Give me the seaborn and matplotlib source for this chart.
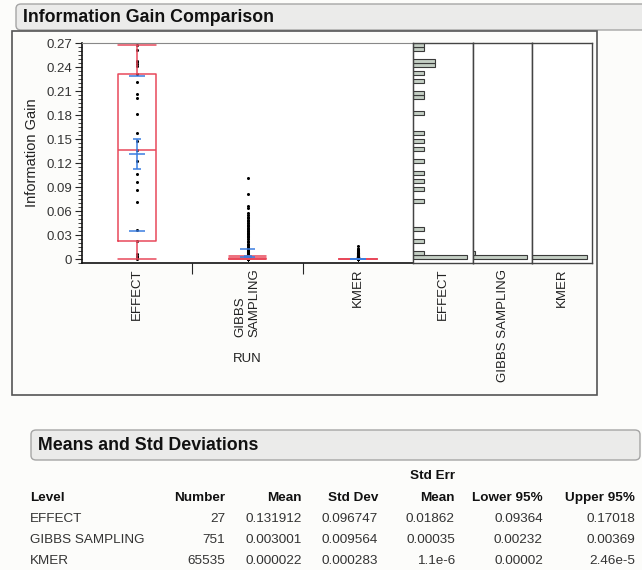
import numpy as np
import pandas as pd
import matplotlib
matplotlib.use('Agg')
import matplotlib.pyplot as plt
from matplotlib.patches import FancyBboxPatch, Rectangle
from matplotlib.ticker import MultipleLocator, FuncFormatter
import seaborn as sns

runs = ['EFFECT', 'GIBBS SAMPLING', 'KMER']
run_ticklabels = ['EFFECT', 'GIBBS\nSAMPLING', 'KMER']

effect_gain = [0.2675, 0.2615, 0.2475, 0.2465, 0.2445, 0.2415, 0.2315, 0.2215,
               0.2065, 0.2015, 0.1815, 0.1575, 0.1475, 0.1365, 0.1225, 0.1065,
               0.0965, 0.0865, 0.0715, 0.0365, 0.0225, 0.0065, 0.0035, 0.0025,
               0.0015, 0.001, 0.0005]

gibbs_levels = [0.0, 0.0005, 0.001, 0.0015, 0.002, 0.0025, 0.003, 0.0035, 0.004, 0.0045,
                0.0055, 0.0065, 0.0075, 0.0085, 0.0095,
                0.011, 0.013, 0.015, 0.017, 0.019, 0.021, 0.023, 0.025,
                0.027, 0.029, 0.031, 0.033, 0.035, 0.037, 0.039, 0.041, 0.043, 0.045,
                0.047, 0.049, 0.051, 0.053, 0.055, 0.058, 0.064, 0.066, 0.0815, 0.1019]
gibbs_counts = [330, 140, 85, 55, 35, 20, 10, 5, 3, 1,
                8, 6, 5, 4, 3,
                3, 2, 2, 2, 1, 1, 1, 1,
                2, 2, 2, 2, 2, 2, 1, 2, 1, 2,
                1, 1, 1, 1, 1, 1, 1, 1, 1, 1]

kmer_levels = [0.0, 0.0005, 0.001, 0.0015, 0.002, 0.003, 0.004, 0.005, 0.006,
               0.007, 0.008, 0.009, 0.010, 0.011, 0.012, 0.016]
kmer_counts = [65096, 150, 80, 50, 40, 30, 25, 15, 12, 10, 8, 6, 5, 4, 3, 1]

# Means and Std Deviations table
tab_number = ['27', '751', '65535']
tab_mean = ['0.131912', '0.003001', '0.000022']
tab_std = ['0.096747', '0.009564', '0.000283']
tab_se = ['0.01862', '0.00035', '1.1e-6']
tab_lower = ['0.09364', '0.00232', '0.00002']
tab_upper = ['0.17018', '0.00369', '2.46e-5']

gain = np.concatenate([effect_gain,
                       np.repeat(gibbs_levels, gibbs_counts),
                       np.repeat(kmer_levels, kmer_counts)])
run = np.repeat(runs, [len(effect_gain), sum(gibbs_counts), sum(kmer_counts)])
df = pd.DataFrame({'RUN': run, 'gain': gain})

sns.set_style('white')
plt.rcParams['font.family'] = ['Liberation Sans', 'DejaVu Sans']

RED = '#e8495b'
BLUE = '#3a7de0'
BG = '#fcfcfa'
W, H = 642, 570

fig = plt.figure(figsize=(W / 100, H / 100), dpi=100)
fig.patch.set_facecolor(BG)


def rect(x0, y0, x1, y1):
    return [x0 / W, 1 - y1 / H, (x1 - x0) / W, (y1 - y0) / H]


def header_box(x0, y0, x1, y1, text):
    p = FancyBboxPatch((x0 / W, 1 - y1 / H), (x1 - x0) / W, (y1 - y0) / H,
                       boxstyle='round,pad=0,rounding_size=0.008',
                       transform=fig.transFigure, facecolor='#ebebea',
                       edgecolor='#a5a5a5', lw=1)
    fig.add_artist(p)
    fig.text((x0 + 7) / W, 1 - (y0 + y1) / 2 / H, text, fontsize=12.8,
             fontweight='bold', ha='left', va='center', color='#111111')


header_box(16, 4, 670, 30, 'Information Gain Comparison')
fig.add_artist(Rectangle((12 / W, 1 - 395 / H), 585 / W, 364 / H,
                         transform=fig.transFigure, fill=False,
                         ec='#555555', lw=1.2))

ylim = (-0.005, 0.2704)

# ---- main box plot panel ----
ax = fig.add_axes(rect(82, 43, 413, 263))
ax.set_facecolor('white')
sns.stripplot(data=df, x='RUN', y='gain', order=runs, jitter=False,
              color='black', size=2.2, linewidth=0, ax=ax, zorder=2)
box_w = 0.34
sns.boxplot(data=df, x='RUN', y='gain', order=runs, width=box_w, whis=1.5,
            showfliers=False, fill=False, color=RED, linewidth=1.1, ax=ax)
# JMP draws whisker caps as wide as the box
for ln in ax.lines:
    xd, yd = np.asarray(ln.get_xdata(), float), np.asarray(ln.get_ydata(), float)
    if len(xd) == 2 and yd[0] == yd[1] and abs((xd[1] - xd[0]) - box_w / 2) < 1e-6:
        c = xd.mean()
        ln.set_xdata([c - box_w / 2, c + box_w / 2])
# JMP quartiles use the (n+1)p rule rather than linear interpolation
for i, r in enumerate(runs):
    vals = df.loc[df['RUN'] == r, 'gain'].to_numpy()
    old = np.percentile(vals, [25, 75])
    new = np.percentile(vals, [25, 75], method='weibull')
    for ln in ax.lines:
        xd, yd = np.asarray(ln.get_xdata(), float), np.asarray(ln.get_ydata(), float)
        if len(xd) in (2, 5) and abs(xd.mean() - i) < 0.3:
            yd2 = yd.copy()
            for o, n in zip(old, new):
                yd2[np.isclose(yd, o)] = n
            ln.set_ydata(yd2)

pos = np.arange(len(runs))
m = np.array([float(v) for v in tab_mean])
sd = np.array([float(v) for v in tab_std])
se = np.array([float(v) for v in tab_se])
ax.errorbar(pos, m, yerr=se, fmt='none', ecolor=BLUE, elinewidth=1.1,
            capsize=3, capthick=1.1, zorder=5)
ax.hlines(m, pos - 0.07, pos + 0.07, color=BLUE, lw=1.1, zorder=5)
ax.hlines(np.r_[m + sd, m - sd], np.r_[pos, pos] - 0.07, np.r_[pos, pos] + 0.07,
          color=BLUE, lw=1.1, zorder=5)

ax.set_xlim(-0.5, 2.5)
ax.set_ylim(*ylim)
ax.set_yticks(np.arange(0, 0.28, 0.03))
ax.yaxis.set_major_formatter(FuncFormatter(lambda v, p: '0' if abs(v) < 1e-9 else f'{v:.2f}'))
ax.yaxis.set_minor_locator(MultipleLocator(0.005))
ax.tick_params(axis='y', which='major', direction='out', length=5, width=0.8,
               labelsize=9.5, labelcolor='#333333', pad=2, left=True)
ax.tick_params(axis='y', which='minor', direction='out', length=3, width=0.6, left=True)
ax.set_xticks(pos)
ax.set_xticklabels(run_ticklabels, rotation=90, va='top', ha='center',
                   fontsize=9.5, color='#222222')
ax.get_xticklabels()[1].set_multialignment('left')
ax.set_xticks([0.5, 1.5], minor=True)
ax.tick_params(axis='x', which='major', length=0, pad=4)
ax.tick_params(axis='x', which='minor', direction='out', length=8, width=0.8, bottom=True)
ax.set_xlabel('RUN', fontsize=9.5, color='#222222', labelpad=11)
ax.set_ylabel('Information Gain', fontsize=10.5, color='#222222', labelpad=5)
for s in ['left', 'bottom']:
    ax.spines[s].set_color('#111111')
    ax.spines[s].set_linewidth(1.2)
ax.spines['top'].set_color('#888888')
ax.spines['right'].set_color('#444444')

# ---- histogram panels ----
pw = (592 - 413) / 3
for i, r in enumerate(runs):
    hax = fig.add_axes(rect(413 + i * pw, 43, 413 + (i + 1) * pw, 263))
    hax.set_facecolor('white')
    sns.histplot(y=df.loc[df['RUN'] == r, 'gain'], binwidth=0.005,
                 binrange=(0, 0.275), color='#c4cfc4', edgecolor='#3a3a3a',
                 linewidth=0.8, alpha=1, ax=hax)
    top = max(p.get_width() for p in hax.patches)
    hax.set_xlim(0, top * 1.1)
    hax.set_ylim(*ylim)
    hax.set_xticks([])
    hax.set_yticks([])
    hax.set_ylabel('')
    hax.set_xlabel(r, rotation=90, va='top', fontsize=9.5, color='#222222', labelpad=4)
    for s in hax.spines.values():
        s.set_color('#444444')
        s.set_linewidth(1)

# ---- Means and Std Deviations table ----
header_box(31, 430, 640, 460, 'Means and Std Deviations')
col_x = [225, 302, 378, 455, 543, 635]
heads = ['Number', 'Mean', 'Std Dev', 'Mean', 'Lower 95%', 'Upper 95%']
fig.text(455 / W, 1 - 476 / H, 'Std Err', fontsize=9.7, fontweight='bold',
         ha='right', va='center', color='#111111')
fig.text(30 / W, 1 - 498 / H, 'Level', fontsize=9.7, fontweight='bold',
         ha='left', va='center', color='#111111')
for x, h in zip(col_x, heads):
    fig.text(x / W, 1 - 498 / H, h, fontsize=9.7, fontweight='bold',
             ha='right', va='center', color='#111111')
cols = [tab_number, tab_mean, tab_std, tab_se, tab_lower, tab_upper]
for j, lev in enumerate(runs):
    y = 1 - (519 + j * 21) / H
    fig.text(30 / W, y, lev, fontsize=9.7, ha='left', va='center', color='#333333')
    for x, col in zip(col_x, cols):
        fig.text(x / W, y, col[j], fontsize=9.7, ha='right', va='center', color='#333333')

fig.savefig('out.png', dpi=100, facecolor=BG)
